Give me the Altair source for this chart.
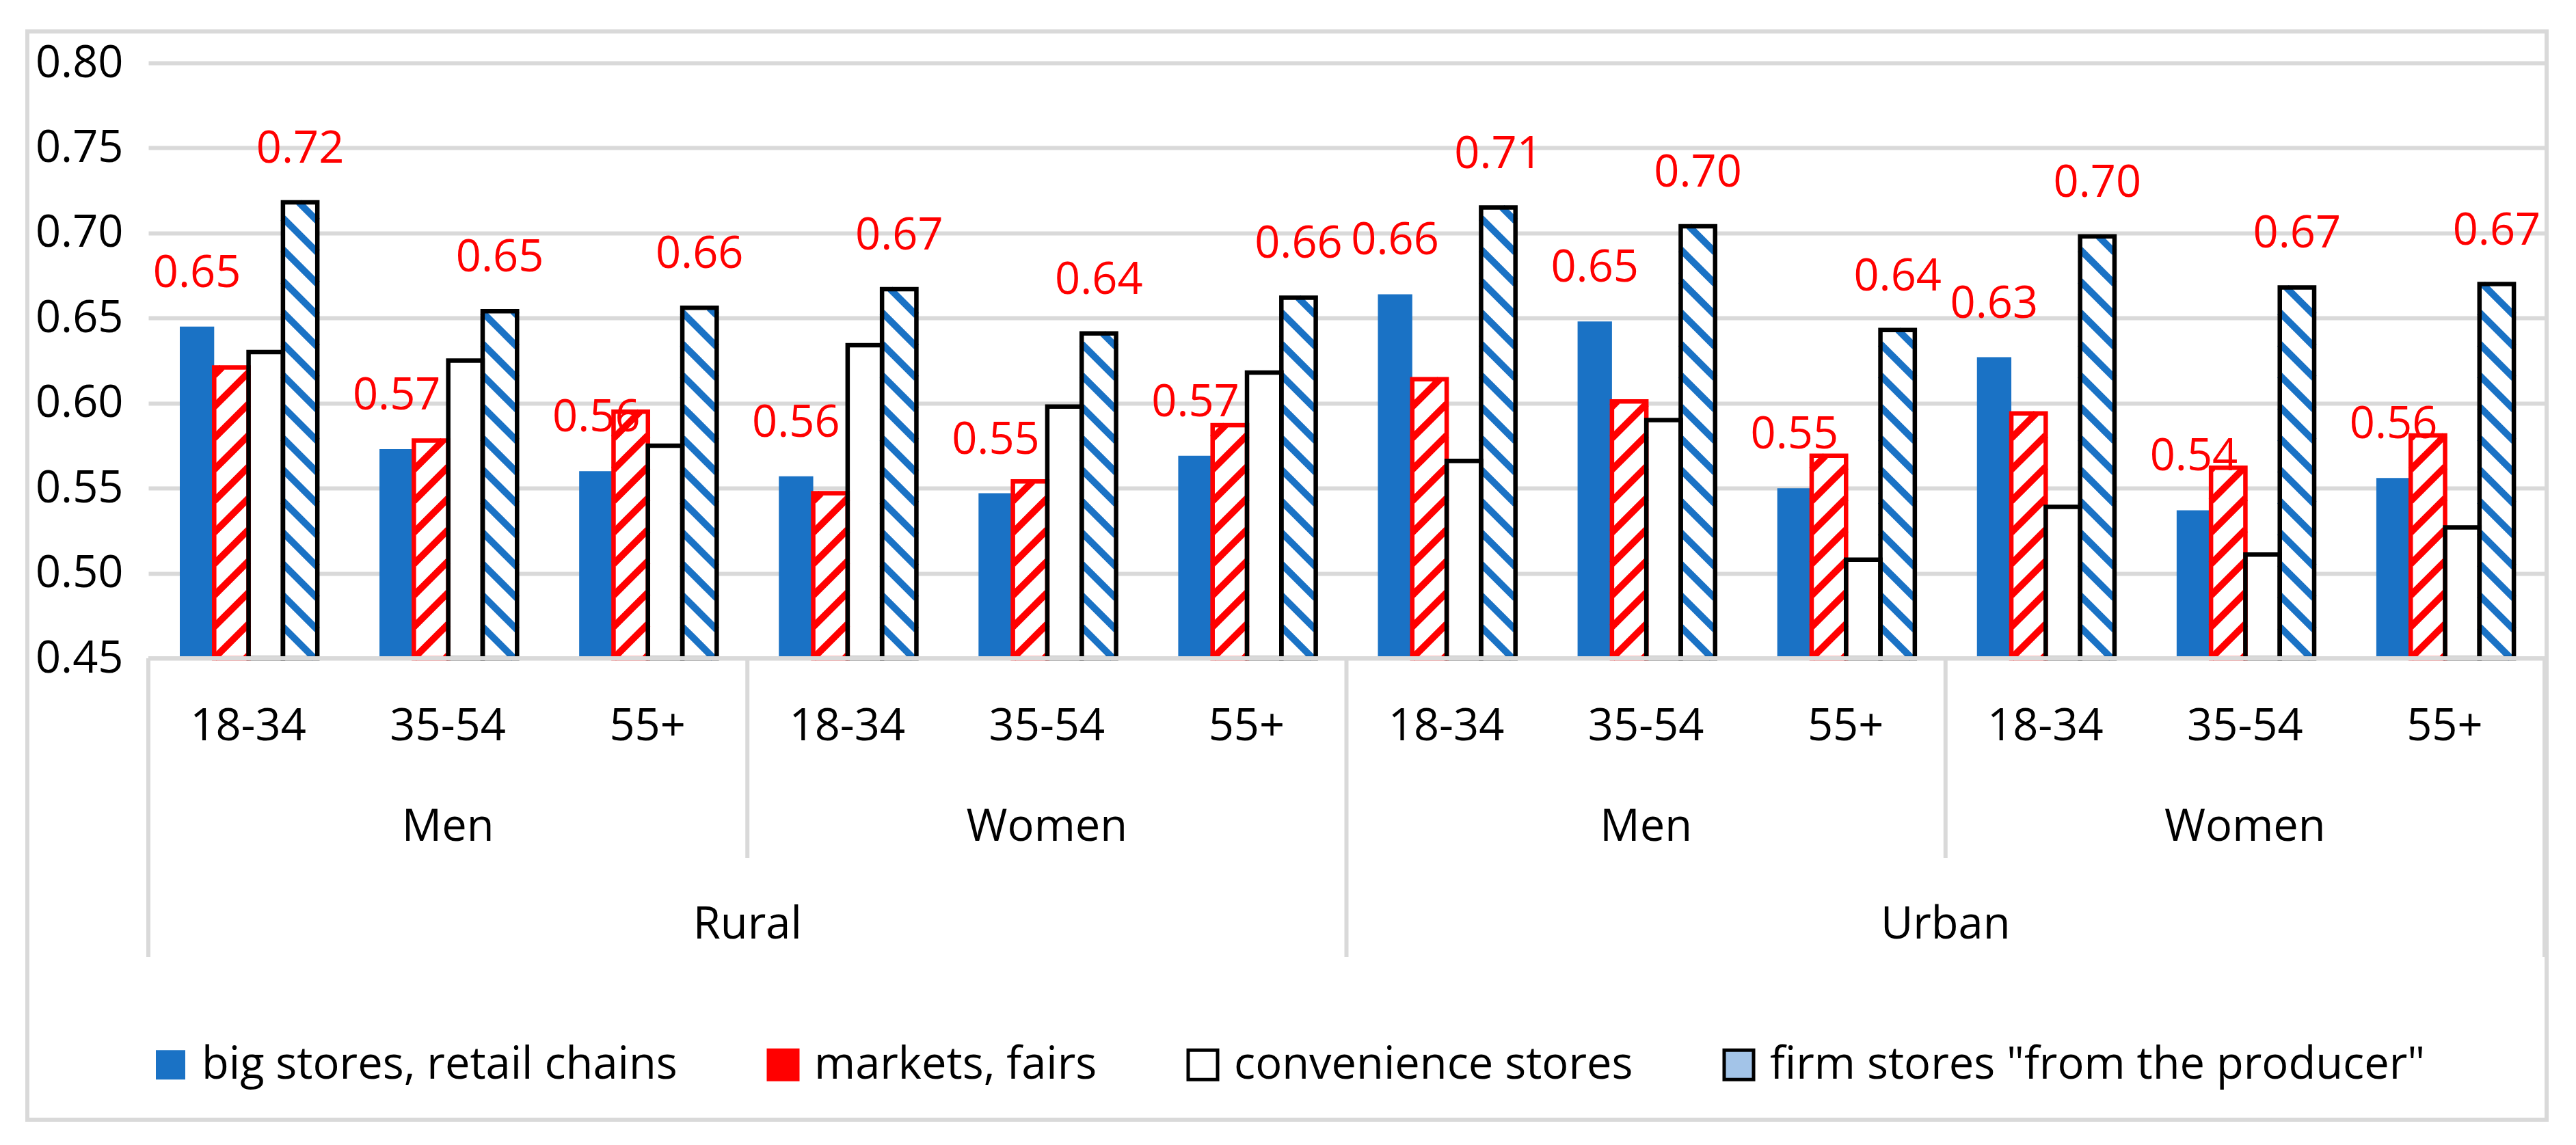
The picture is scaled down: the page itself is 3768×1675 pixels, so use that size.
import math
import altair as alt
import pandas as pd

# ---------------- data ----------------
areas = ["Rural", "Urban"]
genders = ["Men", "Women"]
ages = ["18-34", "35-54", "55+"]
series_names = [
    "big stores, retail chains",
    "markets, fairs",
    "convenience stores",
    'firm stores "from the producer"',
]

big_stores = [0.645, 0.573, 0.560, 0.557, 0.547, 0.569, 0.664, 0.648, 0.550, 0.627, 0.537, 0.556]
markets = [0.621, 0.578, 0.595, 0.547, 0.554, 0.587, 0.614, 0.601, 0.569, 0.594, 0.562, 0.581]
convenience = [0.630, 0.625, 0.575, 0.634, 0.598, 0.618, 0.566, 0.590, 0.508, 0.539, 0.511, 0.527]
firm_stores = [0.718, 0.654, 0.656, 0.667, 0.641, 0.662, 0.715, 0.704, 0.643, 0.698, 0.668, 0.670]

y_ticks = [0.45, 0.50, 0.55, 0.60, 0.65, 0.70, 0.75, 0.80]

# ---------------- layout / style ----------------
W, H = 3505, 871
Y_MIN, Y_MAX = 0.45, 0.80
N_GROUPS = len(areas) * len(genders) * len(ages)
PX_X = W / N_GROUPS
PX_Y = H / (Y_MAX - Y_MIN)
BAR_START = 0.1575
SLOT = 0.1722

BLUE = "#1A72C5"
RED = "#FF0000"
GRID = "#D9D9D9"
FONT = "Open Sans"
FS = 65
BORDER_W = 6.5

values_by_series = [big_stores, markets, convenience, firm_stores]

rows = []
g = 0
for a in areas:
    for gd in genders:
        for ag in ages:
            for k, s in enumerate(series_names):
                x0 = g + BAR_START + k * SLOT
                v = values_by_series[k][g]
                rows.append(dict(area=a, gender=gd, age=ag, series=s, k=k, value=v,
                                 base=Y_MIN, x0=x0, x1=x0 + SLOT, xc=x0 + SLOT / 2,
                                 label=f"{v:.2f}"))
            g += 1
df = pd.DataFrame(rows)


def hatch(x0, v, rising, period=46.0):
    w = SLOT * PX_X
    h = (v - Y_MIN) * PX_Y
    segs = []
    if rising:
        for j in range(math.floor(-w / period), math.ceil(h / period) + 1):
            c = j * period
            xs, xe = max(0.0, -c), min(w, h - c)
            if xe - xs > 1:
                segs.append((xs, xs + c, xe, xe + c))
    else:
        for j in range(0, math.ceil((h + w) / period) + 1):
            c = j * period
            xs, xe = max(0.0, c - h), min(w, c)
            if xe - xs > 1:
                segs.append((xs, c - xs, xe, c - xe))
    return [dict(sx=x0 + a / PX_X, sy=Y_MIN + b / PX_Y, sx2=x0 + c2 / PX_X, sy2=Y_MIN + d / PX_Y)
            for a, b, c2, d in segs]


red_hatch = []
blue_hatch = []
for r in rows:
    if r["k"] == 1:
        red_hatch += hatch(r["x0"], r["value"], True)
    if r["k"] == 3:
        blue_hatch += hatch(r["x0"], r["value"], False)
red_hatch = pd.DataFrame(red_hatch)
blue_hatch = pd.DataFrame(blue_hatch)

age_df = pd.DataFrame([dict(x=i + 0.5, t=ages[i % 3]) for i in range(N_GROUPS)])
gender_df = pd.DataFrame([dict(x=3 * i + 1.5, t=genders[i % 2]) for i in range(4)])
area_df = pd.DataFrame([dict(x=6 * i + 3, t=areas[i]) for i in range(2)])
long_sep = pd.DataFrame(dict(x=[0, 6, 12]))
short_sep = pd.DataFrame(dict(x=[3, 9]))
one = pd.DataFrame(dict(a=[0]))

X_SCALE = alt.Scale(domain=[0, N_GROUPS], nice=False, zero=False)
Y_SCALE = alt.Scale(domain=[Y_MIN, Y_MAX], nice=False, zero=False)


def X(f, **kw):
    return alt.X(f"{f}:Q", scale=X_SCALE, title=None, **kw)


def Y(f, **kw):
    return alt.Y(f"{f}:Q", scale=Y_SCALE, title=None, **kw)


base = alt.Chart(df)

# solid blue bars (with the axes)
blue_bars = base.transform_filter(alt.datum.k == 0).mark_bar(color=BLUE).encode(
    x=X("x0", axis=alt.Axis(labels=False, ticks=False, grid=False, domain=False)),
    x2="x1:Q",
    y=Y("value", axis=alt.Axis(values=y_ticks, format=".2f", grid=True, gridColor=GRID,
                               gridWidth=6, domain=False, ticks=False, labelFont=FONT,
                               labelFontSize=FS, labelColor="black", labelPadding=37)),
    y2="base:Q",
)

white_bars = base.transform_filter(alt.datum.k > 0).mark_bar(color="white").encode(
    x=X("x0"), x2="x1:Q", y=Y("value"), y2="base:Q")

red_lines = alt.Chart(red_hatch).mark_rule(color=RED, strokeWidth=10).encode(
    x=X("sx"), x2="sx2:Q", y=Y("sy"), y2="sy2:Q")
blue_lines = alt.Chart(blue_hatch).mark_rule(color=BLUE, strokeWidth=10).encode(
    x=X("sx"), x2="sx2:Q", y=Y("sy"), y2="sy2:Q")

red_border = base.transform_filter(alt.datum.k == 1).mark_bar(
    fillOpacity=0, stroke=RED, strokeWidth=BORDER_W, strokeJoin="miter").encode(
    x=X("x0"), x2="x1:Q", y=Y("value"), y2="base:Q")
black_border = base.transform_filter(alt.datum.k >= 2).mark_bar(
    fillOpacity=0, stroke="black", strokeWidth=BORDER_W, strokeJoin="miter").encode(
    x=X("x0"), x2="x1:Q", y=Y("value"), y2="base:Q")

labels = base.transform_filter((alt.datum.k == 0) | (alt.datum.k == 3)).mark_text(
    color=RED, font=FONT, fontSize=FS, baseline="alphabetic", align="center", dy=-58).encode(
    x=X("xc"), y=Y("value"), text="label:N")

axis_line = alt.Chart(one).mark_rule(color=GRID, strokeWidth=6).encode(
    x=alt.X(datum=0, scale=X_SCALE, title=None), x2=alt.X2(datum=N_GROUPS), y=alt.value(H))

sep_long = alt.Chart(long_sep).mark_rule(color=GRID, strokeWidth=6).encode(
    x=X("x"), y=alt.value(H), y2=alt.value(1308))
sep_short = alt.Chart(short_sep).mark_rule(color=GRID, strokeWidth=6).encode(
    x=X("x"), y=alt.value(H), y2=alt.value(1163))

txt = dict(font=FONT, fontSize=FS, color="black", baseline="alphabetic", align="center")
age_text = alt.Chart(age_df).mark_text(**txt).encode(x=X("x"), y=alt.value(991), text="t:N")
gender_text = alt.Chart(gender_df).mark_text(**txt).encode(x=X("x"), y=alt.value(1138), text="t:N")
area_text = alt.Chart(area_df).mark_text(**txt).encode(x=X("x"), y=alt.value(1281), text="t:N")

outer = alt.Chart(one).mark_rect(fillOpacity=0, stroke=GRID, strokeWidth=6).encode(
    x=alt.value(-177), x2=alt.value(3508), y=alt.value(-46), y2=alt.value(1546))

leg = alt.Legend(orient="none", legendX=0, legendY=1433, direction="horizontal", title=None,
                 labelFont=FONT, labelFontSize=FS, labelColor="black", labelOffset=13,
                 columnPadding=122, symbolSize=1849, symbolType="square", symbolStrokeWidth=5,
                 padding=0, labelLimit=0, symbolOpacity=1)
legend_layer = base.transform_filter(alt.datum.value < 0).mark_point(
    shape="square", filled=True, opacity=1).encode(
    x=X("xc"), y=Y("value"),
    fill=alt.Fill("series:N", scale=alt.Scale(domain=series_names,
                                             range=[BLUE, RED, "white", "#A3C4E8"]), legend=leg),
    stroke=alt.Stroke("series:N", scale=alt.Scale(domain=series_names,
                                                 range=["transparent", RED, "black", "black"]), legend=leg),
)

chart = alt.layer(
    blue_bars, white_bars, red_lines, blue_lines, red_border, black_border, labels,
    axis_line, sep_long, sep_short, age_text, gender_text, area_text, outer, legend_layer,
).properties(
    width=W, height=H,
    autosize=alt.AutoSizeParams(type="none"),
    padding={"left": 209, "top": 84, "right": 38, "bottom": 704},
).configure(font=FONT).configure_view(strokeWidth=0)

chart.save("out.html", embed_options={"renderer": "svg", "actions": False})
